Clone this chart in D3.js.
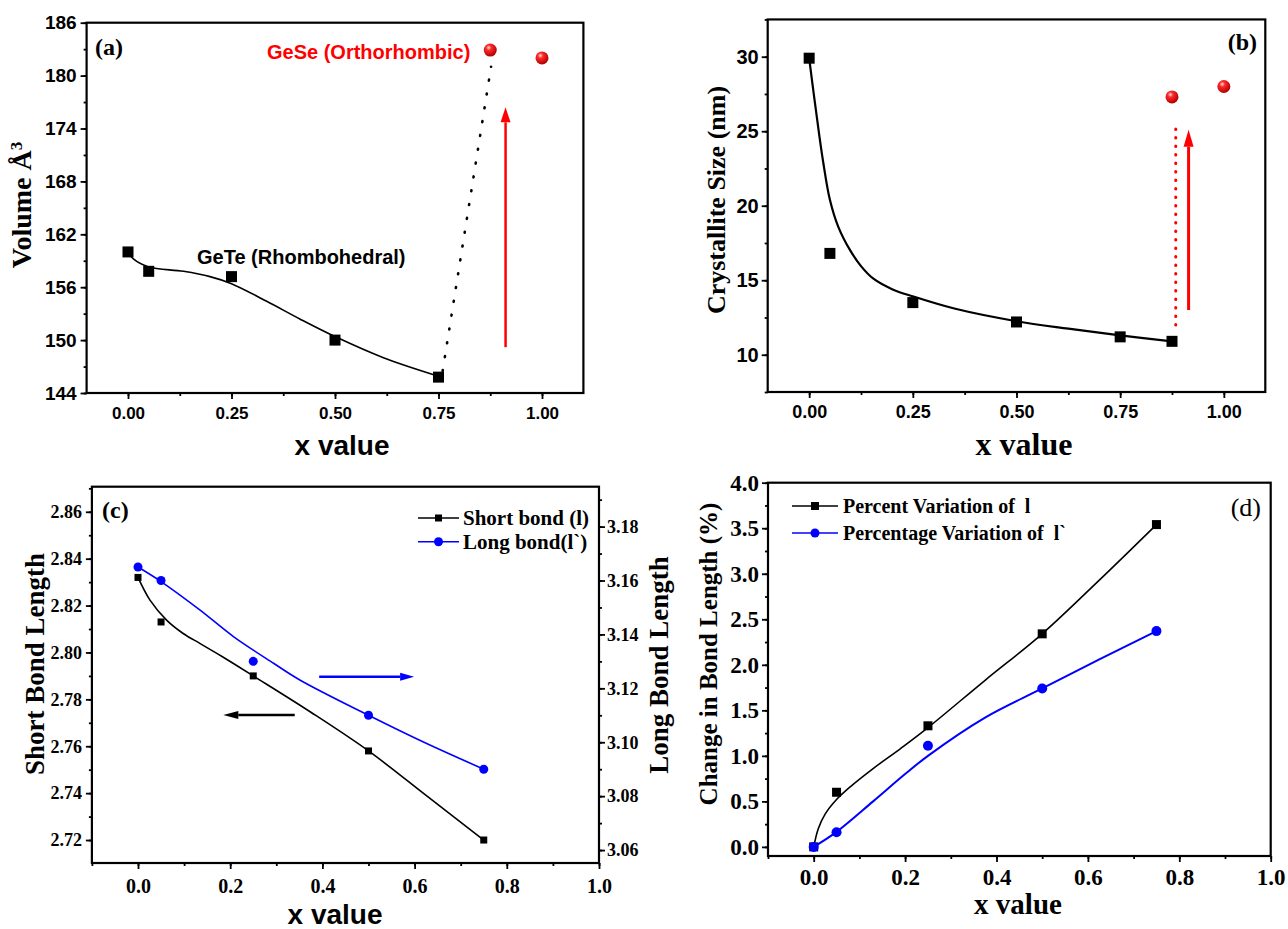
<!DOCTYPE html>
<html>
<head>
<meta charset="utf-8">
<script src="https://cdn.jsdelivr.net/npm/d3@7"></script>
<style>
  body { margin: 0; background: #fff; }
  svg { display: block; }
</style>
</head>
<body>
<svg id="fig" width="1288" height="929"></svg>
<script>
// ---------- data ----------
// (a) cell volume vs x
const xA = [0, 0.05, 0.25, 0.5, 0.75];
const volA = [160.0, 157.8, 157.2, 150.0, 145.8];
const xGeSeA = [0.875, 1.0];
const volGeSe = [182.9, 182.0];
const fitAx = [0, 0.013, 0.05, 0.134, 0.198, 0.25, 0.335, 0.415, 0.5, 0.617, 0.75];
const fitAy = [160.0, 159.2, 158.3, 157.8, 157.2, 156.4, 154.4, 152.4, 150.4, 148.0, 145.9];
const jumpAx = [0.76, 0.877];
const jumpAy = [146.5, 181.0];
const arrowAx = [0.912, 0.912];
const arrowAy = [149.2, 176.4];

// (b) crystallite size vs x
const xB = [0, 0.05, 0.25, 0.5, 0.75, 0.875];
const sizeB = [29.9, 16.8, 13.5, 12.2, 11.2, 10.9];
const xGeSeB = [0.875, 1.0];
const sizeGeSe = [27.3, 28.0];
const fitBx = [0, 0.012, 0.023, 0.034, 0.05, 0.07, 0.099, 0.125, 0.155, 0.2, 0.252, 0.35, 0.5, 0.625, 0.75, 0.875];
const fitBy = [29.9, 27.3, 25.0, 22.9, 20.4, 18.6, 17.0, 15.95, 15.1, 14.4, 13.9, 13.1, 12.25, 11.75, 11.3, 10.9];
const dotBx = [0.884, 0.884];
const dotBy = [12.0, 25.5];
const arrowBx = [0.915, 0.915];
const arrowBy = [13.0, 25.1];

// (c) bond lengths vs x
const xC = [0, 0.05, 0.25, 0.5, 0.75];
const shortBond = [2.832, 2.813, 2.790, 2.758, 2.720];
const longBond = [3.165, 3.160, 3.130, 3.110, 3.090];
const fitShortX = [0, 0.026, 0.062, 0.098, 0.134, 0.171, 0.207, 0.25, 0.375, 0.5, 0.625, 0.75];
const fitShortY = [2.832, 2.8223, 2.8138, 2.8081, 2.8039, 2.7996, 2.7953, 2.790, 2.7745, 2.758, 2.739, 2.720];
const fitLongX = [0, 0.05, 0.134, 0.207, 0.294, 0.351, 0.5, 0.625, 0.75];
const fitLongY = [3.165, 3.1596, 3.1491, 3.1392, 3.1293, 3.1231, 3.110, 3.0996, 3.090];
const arrowLongX = [0.393, 0.599];
const arrowLongY = [3.1243, 3.1243];
const arrowShortX = [0.34, 0.185];
const arrowShortY = [2.7733, 2.7733];
const legendC = ['Short bond (l)', 'Long bond(l`)'];

// (d) percentage change vs x
const xD = [0, 0.05, 0.25, 0.5, 0.75];
const changeShort = [0, 0.60, 1.33, 2.34, 3.54];
const changeLong = [0, 0.16, 1.11, 1.74, 2.37];
const fitDsX = [0, 0.01, 0.025, 0.05, 0.08, 0.13, 0.19, 0.25, 0.375, 0.5, 0.625, 0.75];
const fitDsY = [0, 0.2, 0.36, 0.52, 0.66, 0.86, 1.08, 1.31, 1.83, 2.34, 2.93, 3.54];
const fitDlX = [0, 0.05, 0.13, 0.2, 0.25, 0.375, 0.5, 0.625, 0.75];
const fitDlY = [0, 0.165, 0.5, 0.8, 1.0, 1.42, 1.74, 2.06, 2.37];
const legendD = ['Percent Variation of  l', 'Percentage Variation of  l`'];

// tick values
const ticksX4 = [0, 0.25, 0.5, 0.75, 1.0];
const ticksAy = [144, 150, 156, 162, 168, 174, 180, 186];
const ticksBy = [10, 15, 20, 25, 30];
const ticksX5 = [0, 0.2, 0.4, 0.6, 0.8, 1.0];
const ticksCy = [2.72, 2.74, 2.76, 2.78, 2.80, 2.82, 2.84, 2.86];
const ticksCy2 = [3.06, 3.08, 3.10, 3.12, 3.14, 3.16, 3.18];
const ticksDy = [0, 0.5, 1.0, 1.5, 2.0, 2.5, 3.0, 3.5, 4.0];

// ---------- setup ----------
const SANS = "'Liberation Sans', Arial, sans-serif";
const SERIF = "'Liberation Serif', 'Times New Roman', serif";
const BLUE = '#0000ff';
const RED = '#ff0000';
const svg = d3.select('#fig');

const grad = svg.append('defs').append('radialGradient')
  .attr('id', 'ball').attr('cx', '38%').attr('cy', '32%').attr('r', '68%');
grad.append('stop').attr('offset', '0%').attr('stop-color', '#ffe0e0');
grad.append('stop').attr('offset', '30%').attr('stop-color', '#ff2a2a');
grad.append('stop').attr('offset', '100%').attr('stop-color', '#b00000');

const pts = (xs, ys) => xs.map((v, i) => [v, ys[i]]);
const minorBetween = (lo, hi, step) => d3.range(Math.ceil(lo / step - 1e-9), Math.floor(hi / step + 1e-9) + 1).map((k) => +(k * step).toFixed(6));

function axis(g, gen, scale, major, minor, fmt, pad, font, transform) {
  const gm = g.append('g').attr('transform', transform)
    .call(gen(scale).tickValues(minor).tickSize(3).tickFormat(''));
  const gM = g.append('g').attr('transform', transform)
    .call(gen(scale).tickValues(major).tickSize(6).tickPadding(pad).tickFormat(fmt));
  [gm, gM].forEach((s) => {
    s.select('.domain').remove();
    s.selectAll('line').attr('stroke', '#000').attr('stroke-width', 1.8);
  });
  gM.selectAll('text').attr('fill', '#000').style('font', font);
}

function frame(g, x, y) {
  const [x0, x1] = x.range();
  const [y0, y1] = y.range();
  g.append('rect')
    .attr('x', x0).attr('y', y1)
    .attr('width', x1 - x0).attr('height', y0 - y1)
    .attr('fill', 'none').attr('stroke', '#000').attr('stroke-width', 2.2);
}

function curve(g, x, y, xs, ys, color, w) {
  g.append('path')
    .datum(pts(xs, ys))
    .attr('fill', 'none').attr('stroke', color).attr('stroke-width', w)
    .attr('d', d3.line().curve(d3.curveCatmullRom.alpha(0.5)).x((d) => x(d[0])).y((d) => y(d[1])));
}

function squares(g, x, y, xs, ys, s, color) {
  g.selectAll(null).data(pts(xs, ys)).join('rect')
    .attr('x', (d) => x(d[0]) - s / 2).attr('y', (d) => y(d[1]) - s / 2)
    .attr('width', s).attr('height', s).attr('fill', color);
}

function dots(g, x, y, xs, ys, r, fill) {
  g.selectAll(null).data(pts(xs, ys)).join('circle')
    .attr('cx', (d) => x(d[0])).attr('cy', (d) => y(d[1]))
    .attr('r', r).attr('fill', fill);
}

function arrow(g, x, y, xs, ys, color, w, headL, headW) {
  const x1 = x(xs[0]), y1 = y(ys[0]), x2 = x(xs[1]), y2 = y(ys[1]);
  const a = Math.atan2(y2 - y1, x2 - x1);
  const bx = x2 - headL * Math.cos(a), by = y2 - headL * Math.sin(a);
  const px = Math.sin(a) * headW / 2, py = -Math.cos(a) * headW / 2;
  g.append('line').attr('x1', x1).attr('y1', y1).attr('x2', bx).attr('y2', by)
    .attr('stroke', color).attr('stroke-width', w);
  g.append('path')
    .attr('d', `M${x2},${y2}L${bx + px},${by + py}L${bx - px},${by - py}Z`)
    .attr('fill', color);
}

function label(g, text, xPos, yPos, font, opts = {}) {
  return g.append('text')
    .attr('transform', `translate(${xPos},${yPos})${opts.rotate ? ' rotate(-90)' : ''}`)
    .attr('text-anchor', opts.anchor || 'middle')
    .attr('fill', opts.color || '#000')
    .style('font', font)
    .style('white-space', 'pre')
    .text(text);
}

const f2 = d3.format('.2f');
const f1 = d3.format('.1f');

// ---------- (a) ----------
{
  const g = svg.append('g');
  const x = d3.scaleLinear().domain([-0.1, 1.1]).range([86.6, 583.4]);
  const y = d3.scaleLinear().domain([144, 186]).range([393, 22.7]);
  axis(g, d3.axisBottom, x, ticksX4, minorBetween(-0.1, 1.1, 0.125), f2, 8, `bold 17px ${SANS}`, `translate(0,${y.range()[0]})`);
  axis(g, d3.axisLeft, y, ticksAy, minorBetween(144, 186, 3), d3.format('d'), 4, `bold 19px ${SANS}`, `translate(${x.range()[0]},0)`);
  frame(g, x, y);

  curve(g, x, y, fitAx, fitAy, '#000', 1.6);
  squares(g, x, y, xA, volA, 11, '#000');
  g.append('path')
    .datum(pts(jumpAx, jumpAy))
    .attr('fill', 'none').attr('stroke', '#000').attr('stroke-width', 2.6)
    .attr('stroke-linecap', 'round').attr('stroke-dasharray', '1 13')
    .attr('d', d3.line().x((d) => x(d[0])).y((d) => y(d[1])));
  arrow(g, x, y, arrowAx, arrowAy, RED, 2.5, 15, 10);
  dots(g, x, y, xGeSeA, volGeSe, 6.5, 'url(#ball)');

  label(g, '(a)', 95, 55, `bold 24px ${SERIF}`, { anchor: 'start' });
  label(g, 'GeSe (Orthorhombic)', 267, 59, `bold 20px ${SANS}`, { anchor: 'start', color: RED });
  label(g, 'GeTe (Rhombohedral)', 197, 264, `bold 20px ${SANS}`, { anchor: 'start' });
  const yl = label(g, '', 31, 205, `bold 28px ${SERIF}`, { rotate: true });
  yl.append('tspan').text('Volume Å');
  yl.append('tspan').attr('dy', '-0.55em').style('font-size', '17px').text('3');
  label(g, 'x value', 342, 455, `bold 28px ${SANS}`);
}

// ---------- (b) ----------
{
  const g = svg.append('g');
  const x = d3.scaleLinear().domain([-0.1, 1.1]).range([767.7, 1265.3]);
  const y = d3.scaleLinear().domain([7.5, 32.5]).range([392, 19.45]);
  axis(g, d3.axisBottom, x, ticksX4, minorBetween(-0.1, 1.1, 0.125), f2, 7, `bold 18px ${SANS}`, `translate(0,${y.range()[0]})`);
  axis(g, d3.axisLeft, y, ticksBy, minorBetween(7.5, 32.5, 2.5), d3.format('d'), 3, `bold 20px ${SANS}`, `translate(${x.range()[0]},0)`);
  frame(g, x, y);

  curve(g, x, y, fitBx, fitBy, '#000', 2.2);
  squares(g, x, y, xB, sizeB, 11, '#000');
  g.append('path')
    .datum(pts(dotBx, dotBy))
    .attr('fill', 'none').attr('stroke', RED).attr('stroke-width', 3)
    .attr('stroke-linecap', 'round').attr('stroke-dasharray', '0.5 8')
    .attr('d', d3.line().x((d) => x(d[0])).y((d) => y(d[1])));
  arrow(g, x, y, arrowBx, arrowBy, RED, 3, 17, 10);
  dots(g, x, y, xGeSeB, sizeGeSe, 6.5, 'url(#ball)');

  label(g, '(b)', 1257, 50, `bold 24px ${SERIF}`, { anchor: 'end' });
  label(g, 'Crystallite Size (nm)', 725, 200, `bold 26px ${SERIF}`, { rotate: true });
  label(g, 'x value', 1024, 455, `bold 32px ${SERIF}`);
}

// ---------- (c) ----------
{
  const g = svg.append('g');
  const x = d3.scaleLinear().domain([-0.1, 1.0]).range([91.9, 599]);
  const y = d3.scaleLinear().domain([2.7102, 2.8707]).range([863, 486.7]);
  const y2 = d3.scaleLinear().domain([3.0552, 3.1948]).range([863, 486.7]);
  axis(g, d3.axisBottom, x, ticksX5, minorBetween(-0.1, 1.0, 0.1), f1, 10, `bold 20px ${SERIF}`, `translate(0,${y.range()[0]})`);
  axis(g, d3.axisLeft, y, ticksCy, minorBetween(2.7102, 2.8707, 0.01), f2, 4, `bold 18px ${SERIF}`, `translate(${x.range()[0]},0)`);
  axis(g, d3.axisRight, y2, ticksCy2, minorBetween(3.0552, 3.1948, 0.01), f2, 2, `bold 18px ${SERIF}`, `translate(${x.range()[1]},0)`);
  frame(g, x, y);

  curve(g, x, y, fitShortX, fitShortY, '#000', 1.6);
  curve(g, x, y2, fitLongX, fitLongY, BLUE, 1.6);
  squares(g, x, y, xC, shortBond, 7, '#000');
  dots(g, x, y2, xC, longBond, 4.5, BLUE);
  arrow(g, x, y2, arrowLongX, arrowLongY, BLUE, 2.5, 14, 8);
  arrow(g, x, y, arrowShortX, arrowShortY, '#000', 2.5, 15, 8);

  // legend
  const lg = g.append('g');
  [['#000', 518], [BLUE, 541.7]].forEach(([c, ly], i) => {
    lg.append('line').attr('x1', 418).attr('x2', 459).attr('y1', ly).attr('y2', ly)
      .attr('stroke', c).attr('stroke-width', 1.6);
    if (i === 0) lg.append('rect').attr('x', 438.5 - 3.5).attr('y', ly - 3.5).attr('width', 7).attr('height', 7).attr('fill', c);
    else lg.append('circle').attr('cx', 438.5).attr('cy', ly).attr('r', 4.5).attr('fill', c);
    label(lg, legendC[i], 463, ly + 7, `bold 21px ${SERIF}`, { anchor: 'start' });
  });

  label(g, '(c)', 102, 518, `bold 24px ${SERIF}`, { anchor: 'start' });
  label(g, 'Short Bond Length', 44, 664, `bold 27px ${SERIF}`, { rotate: true });
  label(g, 'Long Bond Length', 668, 665, `bold 27px ${SERIF}`, { rotate: true });
  label(g, 'x value', 335, 924, `bold 28px ${SANS}`);
}

// ---------- (d) ----------
{
  const g = svg.append('g');
  const x = d3.scaleLinear().domain([-0.1, 1.0]).range([768, 1270.7]);
  const y = d3.scaleLinear().domain([-0.1, 4.0]).range([856, 482.7]);
  axis(g, d3.axisBottom, x, ticksX5, minorBetween(-0.1, 1.0, 0.1), f1, 7, `bold 23px ${SERIF}`, `translate(0,${y.range()[0]})`);
  axis(g, d3.axisLeft, y, ticksDy, minorBetween(-0.1, 4.0, 0.25), f1, 3, `bold 23px ${SERIF}`, `translate(${x.range()[0]},0)`);
  frame(g, x, y);

  curve(g, x, y, fitDsX, fitDsY, '#000', 1.6);
  curve(g, x, y, fitDlX, fitDlY, BLUE, 2);
  squares(g, x, y, xD, changeShort, 9, '#000');
  dots(g, x, y, xD, changeLong, 5, BLUE);

  const lg = g.append('g');
  [['#000', 506], [BLUE, 533]].forEach(([c, ly], i) => {
    lg.append('line').attr('x1', 792).attr('x2', 838).attr('y1', ly).attr('y2', ly)
      .attr('stroke', c).attr('stroke-width', 1.6);
    if (i === 0) lg.append('rect').attr('x', 815 - 4).attr('y', ly - 4).attr('width', 8).attr('height', 8).attr('fill', c);
    else lg.append('circle').attr('cx', 815).attr('cy', ly).attr('r', 4.5).attr('fill', c);
    label(lg, legendD[i], 843, ly + 7, `bold 20px ${SERIF}`, { anchor: 'start' });
  });

  label(g, '(d)', 1261, 516, `26px ${SERIF}`, { anchor: 'end' });
  label(g, 'Change in Bond Length (%)', 717, 654, `bold 25px ${SERIF}`, { rotate: true });
  label(g, 'x value', 1018, 914, `bold 29px ${SERIF}`);
}
</script>
</body>
</html>
